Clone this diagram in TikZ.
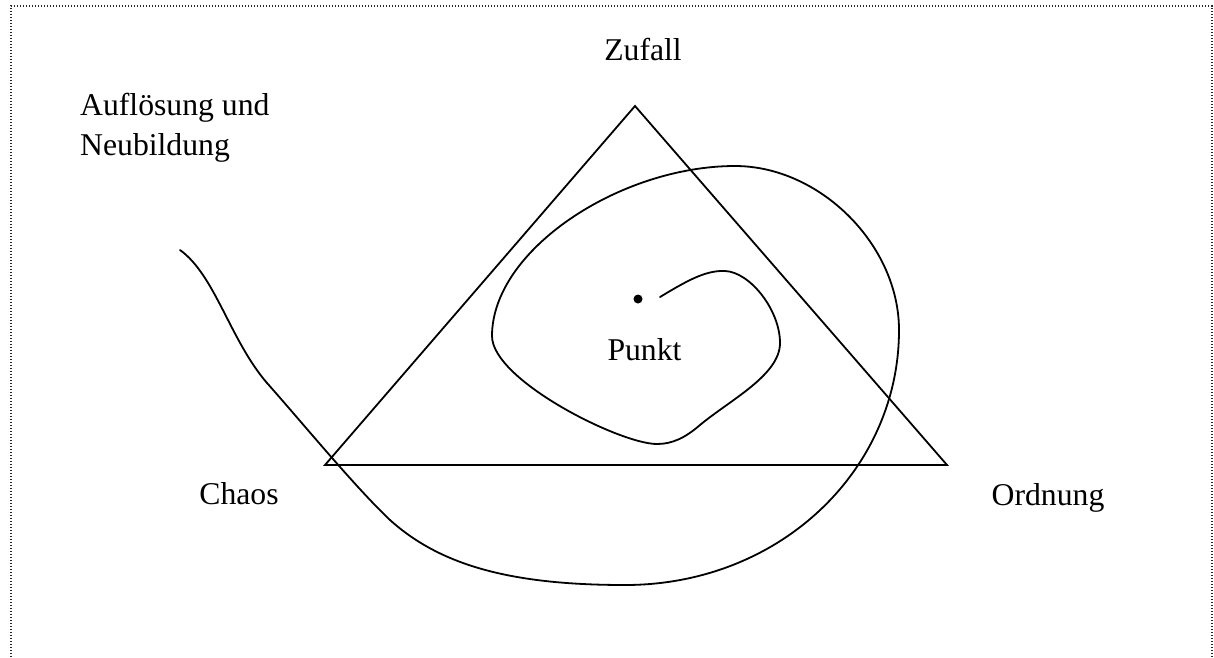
\documentclass[tikz,border=0pt]{standalone}
\usepackage{fontspec}
\setmainfont{Liberation Serif}
\begin{document}
\begin{tikzpicture}[x=1pt,y=-1pt,
  lbl/.style={font=\fontsize{31.7}{40}\selectfont, inner sep=0pt, anchor=base},
  lblw/.style={lbl, anchor=base west},
  edge/.style={line width=1.8pt, line join=miter},
  curve/.style={line width=1.8pt, line cap=round, line join=round},
  frame/.style={line width=1.4pt, dash pattern=on 1.3pt off 1.7pt, black!85}]
\useasboundingbox (0,0) rectangle (1214,657);
\draw[frame] (11,657) -- (11,6) -- (1212,6) -- (1212,657);
% triangle
\coordinate (A) at (635,106);
\coordinate (B) at (325,465);
\coordinate (C) at (947,465);
\draw[edge] (A) -- (B) -- (C) -- cycle;
% labels
\node[lbl] (zufall) at (643,60) {Zufall};
\node[lblw] (aufl) at (80,115) {Auflösung und};
\node[lblw] (neub) at (80,155) {Neubildung};
\node[lbl] (chaos) at (239,504) {Chaos};
\node[lbl] (ordnung) at (1048,505) {Ordnung};
\node[lbl] (punkt) at (644.5,360) {Punkt};
\node[circle, fill=black, inner sep=0pt, minimum size=9pt] (dot) at (638,299) {};
\coordinate (s) at (660,297);
\coordinate (e) at (180,250);
% spiral
\draw[curve] (s)
  .. controls (685,282) and (705,270) .. (725,271)
  .. controls (750,272) and (780,310) .. (780,343)
  .. controls (780,375) and (730,400) .. (700,425)
  .. controls (685,438) and (672,444) .. (657,444)
  .. controls (620,444) and (492,380) .. (492,336)
  .. controls (492,250) and (620,166) .. (735,166)
  .. controls (820,166) and (899,245) .. (899,330)
  .. controls (899,470) and (780,585) .. (625,585)
  .. controls (510,585) and (440,565) .. (390,520)
  .. controls (355,487) and (300,420) .. (267,383)
  .. controls (230,340) and (215,275) .. (e);
\end{tikzpicture}
\end{document}
